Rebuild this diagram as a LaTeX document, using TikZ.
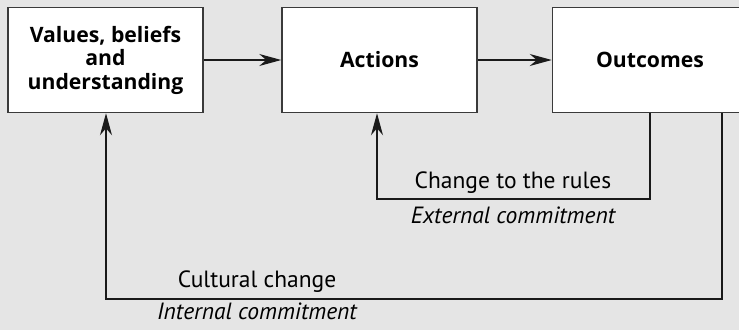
\documentclass[tikz,border=0pt]{standalone}
\usepackage{fontspec}
\setmainfont{PT Sans}
\newfontfamily\boxfont{Open Sans}
\usetikzlibrary{arrows.meta}
\definecolor{bgc}{HTML}{E5E5E5}
\definecolor{boxline}{HTML}{3A3A3A}
\definecolor{lineclr}{HTML}{1A1A1A}
\tikzset{
 box/.style={draw=boxline, line width=1.5pt, fill=white, minimum width=195pt, minimum height=105pt, inner sep=0pt, font=\boxfont\fontsize{21.2}{23.5}\selectfont\bfseries, align=center},
 conn/.style={line width=1.3pt, draw=lineclr},
 arr/.style={conn, -{Stealth[length=22pt,width=12pt,inset=7pt]}},
 lbl/.style={font=\fontsize{23.5}{26}\selectfont, anchor=base, inner sep=0pt},
 ilbl/.style={lbl, font=\fontsize{23.5}{26}\selectfont\itshape}
}
\begin{document}
\begin{tikzpicture}[x=1pt,y=-1pt]
\fill[bgc] (0,0) rectangle (739,330);
\useasboundingbox (0,0) rectangle (739,330);
\node[box] (b1) at (105.5,60) {Values, beliefs\\and\\understanding};
\node[box] (b2) at (379.5,60) {Actions};
\node[box] (b3) at (650,60) {Outcomes};
\draw[arr] (b1.east) -- (b2.west);
\draw[arr] (b2.east) -- (b3.west);
\coordinate (c1) at (650,199);
\coordinate (c2) at (377,199);
\draw[arr] (b3.south) -- (c1) -- (c2) -- (c2 |- b2.south);
\coordinate (d1) at (722,299);
\coordinate (d2) at (106,299);
\draw[arr] (d1 |- b3.south) -- (d1) -- (d2) -- (d2 |- b1.south);
\node[lbl] (t1) at (513,188) {Change to the rules};
\node[ilbl] (t2) at (513,223) {External commitment};
\node[lbl] (t3) at (257,287) {Cultural change};
\node[ilbl] (t4) at (257,319) {Internal commitment};
\end{tikzpicture}
\end{document}
